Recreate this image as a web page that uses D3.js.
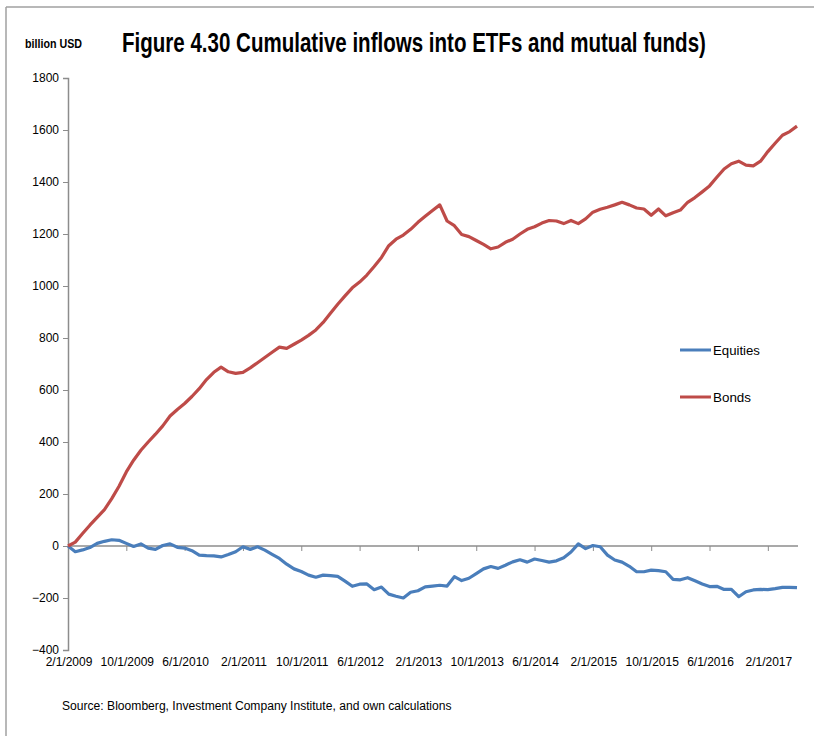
<!DOCTYPE html>
<html>
<head>
<meta charset="utf-8">
<script src="https://cdn.jsdelivr.net/npm/d3@7"></script>
<style>
  html, body { margin: 0; padding: 0; background: #fff; }
  svg { display: block; }
  text { font-family: "Liberation Sans", Arial, sans-serif; fill: #000; }
</style>
</head>
<body>
<svg id="chart" width="814" height="736"></svg>
<script>
// ---- data ----
const seriesNames = ["Equities", "Bonds"];
const seriesColors = ["#4a7ebb", "#be4b48"];
const months = d3.timeMonth.range(new Date(2009, 1, 1), new Date(2017, 6, 1)); // Feb 2009 .. Jun 2017 (101 months)
const equities = [0, -22, -15, -6, 10, 18, 24, 22, 10, -2, 8, -8, -13, 2, 8, -5, -8, -18, -35, -37,
  -38, -42, -33, -22, -3, -13, -3, -16, -32, -48, -70, -88, -98, -112, -120, -112, -114, -117, -135, -155,
  -147, -146, -168, -158, -185, -193, -200, -178, -172, -157, -154, -151, -154, -118, -133, -124, -106, -88, -79, -86,
  -74, -61, -53, -62, -50, -56, -62, -57, -45, -23, 8, -10, 2, -3, -35, -54, -62, -78, -99, -99,
  -93, -95, -99, -128, -130, -122, -134, -146, -156, -155, -167, -167, -195, -176, -169, -167, -168, -164, -159, -159, -160];
const bonds = [0, 15, 48, 80, 110, 140, 182, 230, 285, 330, 368, 400, 430, 462, 500, 525, 548, 575, 605, 640,
  668, 688, 670, 664, 668, 685, 705, 725, 745, 765, 760, 776, 792, 810, 831, 860, 895, 930, 962, 993,
  1015, 1042, 1075, 1110, 1155, 1180, 1196, 1218, 1245, 1268, 1290, 1312, 1250, 1232, 1198, 1190, 1175, 1160, 1143, 1150,
  1168, 1180, 1200, 1218, 1228, 1242, 1252, 1250, 1240, 1252, 1240, 1258, 1284, 1295, 1303, 1312, 1322, 1312, 1300, 1296,
  1272, 1296, 1270, 1282, 1292, 1322, 1340, 1362, 1385, 1418, 1450, 1470, 1480, 1465, 1462, 1480, 1517, 1549, 1580, 1594, 1615];
const yTicks = [-400, -200, 0, 200, 400, 600, 800, 1000, 1200, 1400, 1600, 1800];
const xTickLabels = ["2/1/2009", "10/1/2009", "6/1/2010", "2/1/2011", "10/1/2011", "6/1/2012", "2/1/2013",
  "10/1/2013", "6/1/2014", "2/1/2015", "10/1/2015", "6/1/2016", "2/1/2017"];
const titleText = "Figure 4.30 Cumulative inflows into ETFs and mutual funds)";
const unitText = "billion USD";
const sourceText = "Source: Bloomberg, Investment Company Institute, and own calculations";

// ---- layout ----
const svg = d3.select("#chart");
const pLeft = 68, pRight = 797, pTop = 78, pBottom = 650;
const axisColor = "#8c8c8c";

const x = d3.scaleLinear().domain([0, months.length - 1]).range([pLeft, pRight]);
const y = d3.scaleLinear().domain([-400, 1800]).range([pBottom, pTop]);

// condensed text: keep the font size (height) and squeeze horizontally to a target width
function condensedText(parent, str, px, py, size, target, weight) {
  const g = parent.append("g");
  const t = g.append("text").attr("x", 0).attr("y", 0)
    .attr("font-size", size).attr("font-weight", weight || "normal").text(str);
  const w = t.node().getComputedTextLength();
  const k = w > 0 ? target / w : 1;
  g.attr("transform", `translate(${px},${py}) scale(${k},1)`);
  return t;
}

// frame lines
svg.append("line").attr("x1", 6).attr("x2", 814).attr("y1", 7).attr("y2", 7)
  .attr("stroke", "#a0a0a0").attr("stroke-width", 1.5);
svg.append("line").attr("x1", 6).attr("x2", 6).attr("y1", 7).attr("y2", 736)
  .attr("stroke", "#a0a0a0").attr("stroke-width", 1.5);

// title and unit
condensedText(svg, titleText, 122, 52, 28, 584, "bold");
condensedText(svg, unitText, 25, 48, 12, 57, "bold");

// y axis
const yAxis = d3.axisLeft(y).tickValues(yTicks).tickSize(5).tickPadding(4).tickFormat(d3.format("d"));
const gy = svg.append("g").attr("transform", `translate(${pLeft},0)`).call(yAxis);
gy.select(".domain").attr("stroke", axisColor).attr("stroke-width", 1.5);
gy.selectAll(".tick line").attr("stroke", axisColor);
gy.selectAll(".tick text").attr("font-size", 12).style("font-family", "Liberation Sans, Arial, sans-serif").attr("fill", "#222");

// x axis at zero
const tickIdx = xTickLabels.map((d, i) => i * 8);
const xAxis = d3.axisBottom(x).tickValues(tickIdx).tickSize(5).tickFormat("");
const gx = svg.append("g").attr("transform", `translate(0,${y(0)})`).call(xAxis);
gx.select(".domain").attr("stroke", axisColor).attr("stroke-width", 1.5).attr("d", `M${pLeft},0H${pRight + 1}`);
gx.selectAll(".tick line").attr("stroke", axisColor);

// x labels at bottom
svg.append("g").selectAll("text").data(xTickLabels).join("text")
  .attr("x", (d, i) => x(tickIdx[i]) + 1)
  .attr("y", 666)
  .attr("text-anchor", "middle")
  .attr("font-size", 12)
  .attr("fill", "#222")
  .text(d => d);

// lines
const line = d3.line().x((d, i) => x(i)).y(d => y(d));
[equities, bonds].forEach((s, k) => {
  svg.append("path").datum(s)
    .attr("fill", "none").attr("stroke", seriesColors[k])
    .attr("stroke-width", 3.2).attr("stroke-linejoin", "round")
    .attr("d", line);
});

// legend
const legY = [350, 397];
seriesNames.forEach((n, k) => {
  svg.append("line").attr("x1", 680).attr("x2", 711).attr("y1", legY[k]).attr("y2", legY[k])
    .attr("stroke", seriesColors[k]).attr("stroke-width", 3);
  condensedText(svg, n, 713, legY[k] + 5, 13.5, k === 0 ? 47 : 38);
});

// source
condensedText(svg, sourceText, 62, 710, 13.5, 390);
</script>
</body>
</html>
